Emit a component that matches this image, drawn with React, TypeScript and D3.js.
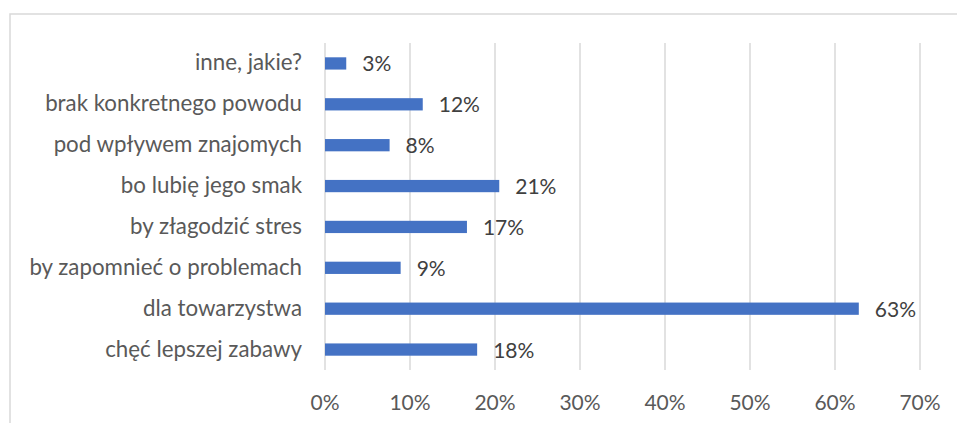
import * as d3 from 'd3';
import React from 'react';

const categories = [
  'inne, jakie?',
  'brak konkretnego powodu',
  'pod wpływem znajomych',
  'bo lubię jego smak',
  'by złagodzić stres',
  'by zapomnieć o problemach',
  'dla towarzystwa',
  'chęć lepszej zabawy',
];
const values = [2.5, 11.5, 7.6, 20.5, 16.7, 8.9, 62.8, 17.9];
const valueLabels = ['3%', '12%', '8%', '21%', '17%', '9%', '63%', '18%'];
const ticks = [0, 10, 20, 30, 40, 50, 60, 70];

const W = 957;
const H = 423;
const margin = { top: 43, right: 37, bottom: 53, left: 325 };
const FONT = 'Lato, "Open Sans", sans-serif';

function App() {
  const x = d3
    .scaleLinear()
    .domain([0, 70])
    .range([margin.left, W - margin.right]);
  const y = d3
    .scaleBand()
    .domain(categories)
    .range([margin.top, H - margin.bottom])
    .paddingInner(0.7)
    .paddingOuter(0.35);
  const bandTop = margin.top;
  const bandBottom = H - margin.bottom;

  return (
    <svg
      width={W}
      height={H}
      style={{ position: 'absolute', left: 0, top: 0, background: '#fff' }}
    >
      <rect x={10} y={14} width={W + 20} height={H + 20} fill="#fff" stroke="#D9D9D9" strokeWidth={1.5} />
      {/* gridlines */}
      {ticks.map((t) => (
        <line
          key={t}
          x1={x(t)}
          x2={x(t)}
          y1={bandTop}
          y2={bandBottom}
          stroke="#D9D9D9"
          strokeWidth={1.5}
        />
      ))}
      {/* x tick labels */}
      {ticks.map((t) => (
        <text
          key={'t' + t}
          x={x(t)}
          y={410}
          textAnchor="middle"
          fontFamily={FONT}
          fontSize={21}
          fill="#595959"
        >
          {t + '%'}
        </text>
      ))}
      {/* bars */}
      {categories.map((c, i) => (
        <rect
          key={c}
          x={x(0)}
          y={y(c)}
          width={x(values[i]) - x(0)}
          height={y.bandwidth()}
          fill="#4472C4"
        />
      ))}
      {/* value labels */}
      {categories.map((c, i) => (
        <text
          key={'v' + c}
          x={x(values[i]) + 16}
          y={(y(c) as number) + y.bandwidth() / 2 + 8}
          fontFamily={FONT}
          fontSize={21}
          fill="#404040"
        >
          {valueLabels[i]}
        </text>
      ))}
      {/* category labels */}
      {categories.map((c) => (
        <text
          key={'c' + c}
          x={302}
          y={(y(c) as number) + y.bandwidth() / 2 + 7}
          textAnchor="end"
          fontFamily={FONT}
          fontSize={22.3}
          fill="#595959"
        >
          {c}
        </text>
      ))}
    </svg>
  );
}

export default App;
